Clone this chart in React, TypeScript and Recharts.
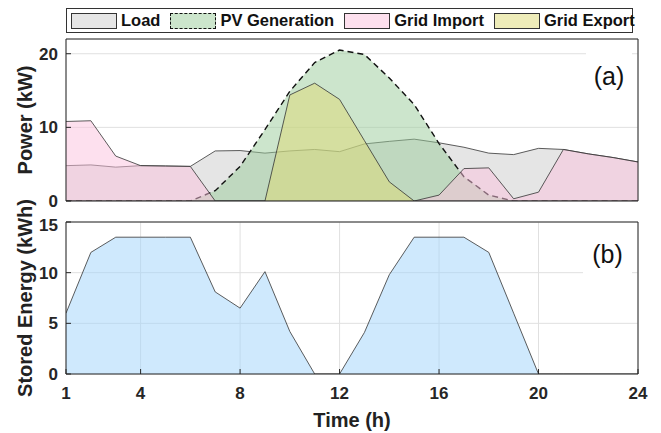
import { ComposedChart, Area, XAxis, YAxis, CartesianGrid } from 'recharts';

// hourly profile (h = 1..24)
const hours = [1, 2, 3, 4, 5, 6, 7, 8, 9, 10, 11, 12, 13, 14, 15, 16, 17, 18, 19, 20, 21, 22, 23, 24];
const loadKw = [4.8, 4.9, 4.6, 4.8, 4.75, 4.7, 6.8, 6.85, 6.5, 6.8, 7.0, 6.7, 7.75, 8.1, 8.4, 7.9, 7.3, 6.5, 6.3, 7.15, 7.0, 6.4, 5.9, 5.3];
const pvKw = [0, 0, 0, 0, 0, 0, 1.4, 4.7, 9.7, 14.9, 18.8, 20.5, 19.9, 16.7, 13.1, 7.8, 3.3, 0.8, 0, 0, 0, 0, 0, 0];
const importKw = [10.8, 10.9, 6.1, 4.8, 4.75, 4.7, 0, 0, 0, 0, 0, 0, 0, 0, 0, 0.8, 4.4, 4.5, 0.3, 1.2, 7.0, 6.4, 5.9, 5.3];
const exportKw = [0, 0, 0, 0, 0, 0, 0, 0, 0, 14.4, 16.0, 13.8, 8.2, 2.6, 0, 0, 0, 0, 0, 0, 0, 0, 0, 0];
const storedKwh = [6, 12, 13.5, 13.5, 13.5, 13.5, 8.1, 6.5, 10.1, 4.2, 0, 0, 4.1, 9.8, 13.5, 13.5, 13.5, 12, 6, 0, 0, 0, 0, 0];

const hourTicks = [1, 4, 8, 12, 16, 20, 24];
const powerTicks = [0, 10, 20];
const energyTicks = [0, 5, 10, 15];

const powerData = hours.map((h, i) => ({
  hour: h,
  load: loadKw[i],
  pv: pvKw[i],
  gridImport: importKw[i],
  gridExport: exportKw[i],
}));
const energyData = hours.map((h, i) => ({ hour: h, stored: storedKwh[i] }));

const FONT = '"Liberation Sans", Arial, Helvetica, sans-serif';
const INK = '#262626';
const GRID = '#e0e0e0';
const EDGE = '#333333';

const LOAD_FILL = '#cccccc';
const PV_FILL = '#99cc99';
const IMPORT_FILL = '#fbc1dd';
const EXPORT_FILL = '#ded974';
const STORE_FILL = '#9fd3fb';

const legendItems = [
  { label: 'Load', color: LOAD_FILL, dashed: false },
  { label: 'PV Generation', color: PV_FILL, dashed: true },
  { label: 'Grid Import', color: IMPORT_FILL, dashed: false },
  { label: 'Grid Export', color: EXPORT_FILL, dashed: false },
];

const tickStyle = { fill: INK, fontSize: 17, fontWeight: 'bold', fontFamily: FONT };

// box-style axes: inward ticks on all four sides, labels only left / bottom
function boxAxes(yTicks: number[], yDomain: number[], showX: boolean) {
  return [
    <XAxis
      key="xb"
      xAxisId={0}
      type="number"
      dataKey="hour"
      domain={[1, 24]}
      ticks={hourTicks}
      allowDataOverflow
      height={1}
      tickSize={-5}
      tickMargin={18}
      tick={showX ? tickStyle : false}
      axisLine={{ stroke: INK }}
      tickLine={{ stroke: INK }}
    />,
    <XAxis
      key="xt"
      xAxisId="top"
      orientation="top"
      type="number"
      dataKey="hour"
      domain={[1, 24]}
      ticks={hourTicks}
      allowDataOverflow
      height={1}
      tickSize={-5}
      tick={false}
      axisLine={{ stroke: INK }}
      tickLine={{ stroke: INK }}
    />,
    <YAxis
      key="yl"
      yAxisId={0}
      type="number"
      domain={yDomain}
      ticks={yTicks}
      allowDataOverflow
      width={1}
      tickSize={-5}
      tickMargin={13}
      tick={tickStyle}
      axisLine={{ stroke: INK }}
      tickLine={{ stroke: INK }}
    />,
    <YAxis
      key="yr"
      yAxisId="right"
      orientation="right"
      type="number"
      domain={yDomain}
      ticks={yTicks}
      allowDataOverflow
      width={1}
      tickSize={-5}
      tick={false}
      axisLine={{ stroke: INK }}
      tickLine={{ stroke: INK }}
    />,
  ];
}

const titleStyle: any = {
  position: 'absolute',
  fontFamily: FONT,
  fontWeight: 'bold',
  fontSize: 20,
  color: '#222',
  whiteSpace: 'nowrap',
};

const tagStyle: any = {
  position: 'absolute',
  background: '#fff',
  fontFamily: FONT,
  fontSize: 25,
  color: '#111',
  display: 'flex',
  alignItems: 'center',
  justifyContent: 'center',
};

export default function App() {
  return (
    <div style={{ position: 'absolute', left: 0, top: 0, width: 661, height: 433, background: '#fff', overflow: 'hidden' }}>
      {/* (a) power balance */}
      <ComposedChart
        width={661}
        height={215}
        data={powerData}
        margin={{ top: 38, right: 22, bottom: 13, left: 65 }}
        style={{ position: 'absolute', left: 0, top: 0 }}
      >
        <CartesianGrid stroke={GRID} />
        <Area type="linear" dataKey="load" stroke={EDGE} strokeWidth={0.8} fill={LOAD_FILL} fillOpacity={0.5} dot={false} activeDot={false} isAnimationActive={false} />
        <Area type="linear" dataKey="pv" stroke="#111" strokeWidth={1.4} strokeDasharray="6 4" fill={PV_FILL} fillOpacity={0.5} dot={false} activeDot={false} isAnimationActive={false} />
        <Area type="linear" dataKey="gridImport" stroke={EDGE} strokeWidth={0.8} fill={IMPORT_FILL} fillOpacity={0.5} dot={false} activeDot={false} isAnimationActive={false} />
        <Area type="linear" dataKey="gridExport" stroke={EDGE} strokeWidth={0.8} fill={EXPORT_FILL} fillOpacity={0.5} dot={false} activeDot={false} isAnimationActive={false} />
        {boxAxes(powerTicks, [0, 22], false)}
      </ComposedChart>

      {/* (b) battery */}
      <ComposedChart
        width={661}
        height={218}
        data={energyData}
        margin={{ top: 6, right: 22, bottom: 58, left: 65 }}
        style={{ position: 'absolute', left: 0, top: 215 }}
      >
        <CartesianGrid stroke={GRID} />
        <Area type="linear" dataKey="stored" stroke={EDGE} strokeWidth={0.8} fill={STORE_FILL} fillOpacity={0.5} dot={false} activeDot={false} isAnimationActive={false} />
        {boxAxes(energyTicks, [0, 15], true)}
      </ComposedChart>

      {/* legend */}
      <div
        style={{
          position: 'absolute', left: 66, top: 8, width: 567, height: 25, boxSizing: 'border-box',
          border: '1px solid #333', background: '#fff', display: 'flex', alignItems: 'center', paddingLeft: 4,
          fontFamily: FONT, fontWeight: 'bold', fontSize: 16.5, color: '#111', whiteSpace: 'nowrap',
        }}
      >
        {legendItems.map((it) => (
          <div key={it.label} style={{ display: 'flex', alignItems: 'center', marginRight: 10, flexShrink: 0 }}>
            <div
              style={{
                width: 46, height: 16, boxSizing: 'border-box', marginRight: 4, flexShrink: 0,
                background: it.color + '80',
                border: it.dashed ? '1.5px dashed #111' : '1px solid #333',
              }}
            />
            <span>{it.label}</span>
          </div>
        ))}
      </div>

      <div style={{ ...titleStyle, left: 25, top: 120, transform: 'translate(-50%, -50%) rotate(-90deg)' }}>Power (kW)</div>
      <div style={{ ...titleStyle, left: 25, top: 298, transform: 'translate(-50%, -50%) rotate(-90deg)' }}>Stored Energy (kWh)</div>
      <div style={{ ...titleStyle, left: 352, top: 420, transform: 'translate(-50%, -50%)' }}>Time (h)</div>

      <div style={{ ...tagStyle, left: 586, top: 52, width: 46, height: 48 }}>(a)</div>
      <div style={{ ...tagStyle, left: 583, top: 232, width: 49, height: 44 }}>(b)</div>
    </div>
  );
}
